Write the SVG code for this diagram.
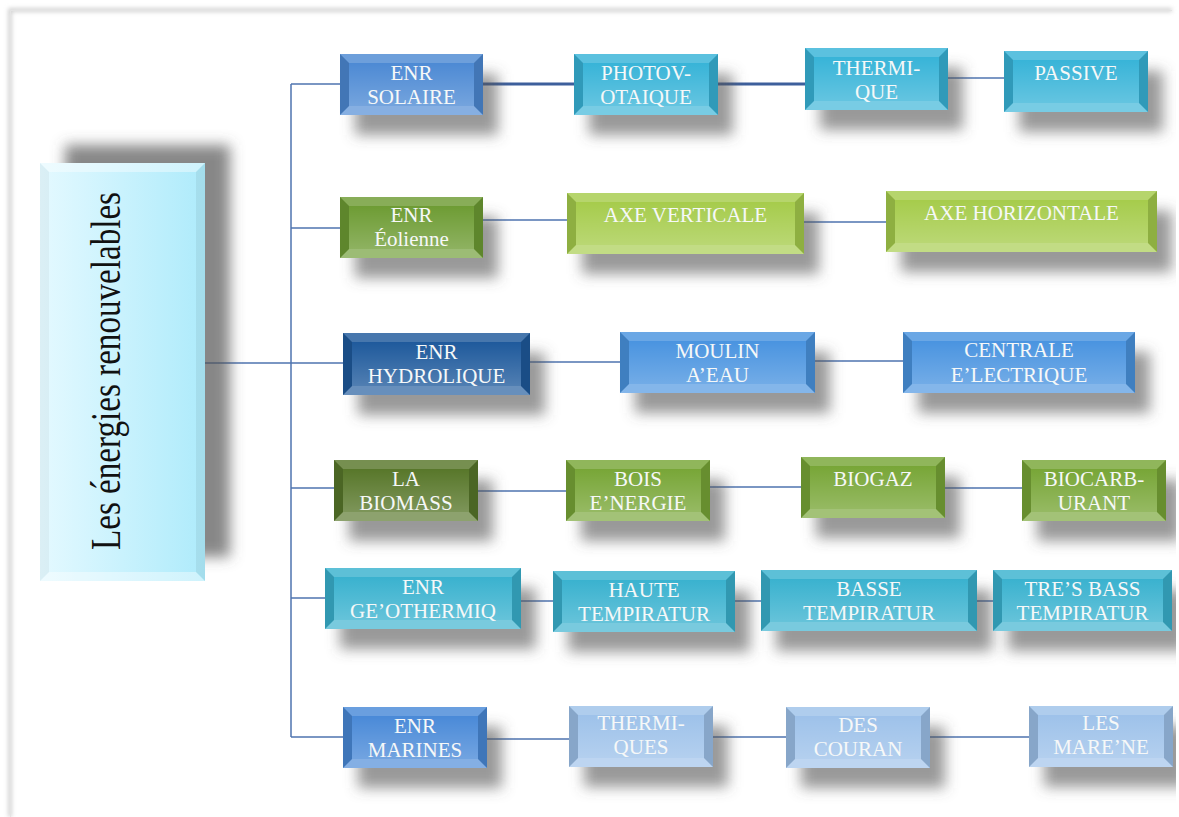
<svg xmlns="http://www.w3.org/2000/svg" width="1179" height="817" viewBox="0 0 1179 817">
<style>
  .sh{fill:#555;fill-opacity:.6;filter:url(#blur)}
  .bt{fill:#fff;fill-opacity:.18}
  .bb{fill:#fff;fill-opacity:.32}
  .bs{fill:#000;fill-opacity:.14}
  .face{fill:url(#gl)}
  .t{font-family:"Liberation Serif","Times New Roman",serif;font-size:21px;fill:#f6f8f8;text-anchor:middle}
  .c{fill:none;stroke:#4f74b0;stroke-width:1.5}
  .ck{fill:none;stroke:#3d5f9c;stroke-width:3}
</style>
<defs>
  <filter id="blur" x="-30%" y="-60%" width="160%" height="220%"><feGaussianBlur stdDeviation="7"/></filter>
  <filter id="pg" x="-5%" y="-5%" width="110%" height="110%"><feGaussianBlur stdDeviation="2"/></filter>
  <clipPath id="clip"><rect x="0" y="0" width="1176" height="817"/></clipPath>
  <linearGradient id="gl" x1="0" y1="0" x2="0" y2="1">
    <stop offset="0" stop-color="#fff" stop-opacity="0"/>
    <stop offset="1" stop-color="#fff" stop-opacity=".22"/>
  </linearGradient>
  <linearGradient id="rootg" x1="0" y1="0" x2="1" y2="0">
    <stop offset="0" stop-color="#e4f9ff"/>
    <stop offset="1" stop-color="#aeebfb"/>
  </linearGradient>
</defs>
<rect width="1179" height="817" fill="#fff"/>
<g id="page">
  <path d="M10,817 V10 H1172" fill="none" stroke="#c4c4c4" stroke-width="3" filter="url(#pg)"/>
  <path d="M10.5,817 V10.5 H1172" fill="none" stroke="#e4e4e4" stroke-width="1"/>
</g>

<g id="connectors">
  <path class="c" d="M205,363 H291 M291,84 V737 M291,84 H340 M291,228 H340 M291,363 H343 M291,488 H334 M291,598 H325 M291,737 H343"/>
  <path class="ck" d="M483,84 H574 M718,84 H805"/>
  <path class="c" d="M948,78 H1004"/>
  <path class="c" d="M483,220 H567 M804,222 H886"/>
  <path class="c" d="M530,362 H620 M815,361 H903"/>
  <path class="c" d="M478,491 H566 M710,487 H801 M945,488 H1022"/>
  <path class="c" d="M521,601 H553 M735,601 H761 M977,601 H993"/>
  <path class="c" d="M487,739 H569 M713,737 H786 M930,737 H1029"/>
</g>

<g id="nodes" clip-path="url(#clip)">
<g id="n-root">
  <rect class="sh" x="65" y="145" width="165" height="412" style="fill-opacity:.7"/>
  <rect x="40" y="163" width="165" height="418" fill="url(#rootg)"/>
  <polygon class="bt" points="40,163 205,163 196,172 49,172" style="fill-opacity:.4"/>
  <polygon class="bb" points="40,581 205,581 196,572 49,572" style="fill-opacity:.4"/>
  <polygon class="bs" points="40,163 49,172 49,572 40,581" style="fill-opacity:.04"/>
  <polygon class="bs" points="205,163 196,172 196,572 205,581" style="fill-opacity:.06"/>
  <text transform="translate(120,371) rotate(-90)" x="0" y="0" text-anchor="middle" font-family="Liberation Serif, Times New Roman, serif" font-size="42" fill="#111" textLength="358" lengthAdjust="spacingAndGlyphs">Les énergies renouvelables</text>
</g>

<!-- Row 1 -->
<g id="n-solaire">
  <rect class="sh" x="355" y="74" width="143" height="61"/>
  <rect x="340" y="54" width="143" height="61" fill="#4d8ad4"/>
  <polygon class="bt" points="340,54 483,54 474,63 349,63"/>
  <polygon class="bb" points="340,115 483,115 474,106 349,106"/>
  <polygon class="bs" points="340,54 349,63 349,106 340,115"/>
  <polygon class="bs" points="483,54 474,63 474,106 483,115"/>
  <rect class="face" x="349" y="63" width="125" height="43"/>
  <text class="t" x="411.5" y="80">ENR</text><text class="t" x="411.5" y="104">SOLAIRE</text>
</g>
<g id="n-photov">
  <rect class="sh" x="589" y="74" width="144" height="61"/>
  <rect x="574" y="54" width="144" height="61" fill="#38b4d8"/>
  <polygon class="bt" points="574,54 718,54 709,63 583,63"/>
  <polygon class="bb" points="574,115 718,115 709,106 583,106"/>
  <polygon class="bs" points="574,54 583,63 583,106 574,115"/>
  <polygon class="bs" points="718,54 709,63 709,106 718,115"/>
  <rect class="face" x="583" y="63" width="126" height="43"/>
  <text class="t" x="646" y="80">PHOTOV-</text><text class="t" x="646" y="104">OTAIQUE</text>
</g>
<g id="n-thermi">
  <rect class="sh" x="820" y="68" width="143" height="62"/>
  <rect x="805" y="48" width="143" height="62" fill="#38b4d8"/>
  <polygon class="bt" points="805,48 948,48 939,57 814,57"/>
  <polygon class="bb" points="805,110 948,110 939,101 814,101"/>
  <polygon class="bs" points="805,48 814,57 814,101 805,110"/>
  <polygon class="bs" points="948,48 939,57 939,101 948,110"/>
  <rect class="face" x="814" y="57" width="125" height="44"/>
  <text class="t" x="876.5" y="75">THERMI-</text><text class="t" x="876.5" y="99">QUE</text>
</g>
<g id="n-passive">
  <rect class="sh" x="1019" y="71" width="144" height="61"/>
  <rect x="1004" y="51" width="144" height="61" fill="#38b4d8"/>
  <polygon class="bt" points="1004,51 1148,51 1139,60 1013,60"/>
  <polygon class="bb" points="1004,112 1148,112 1139,103 1013,103"/>
  <polygon class="bs" points="1004,51 1013,60 1013,103 1004,112"/>
  <polygon class="bs" points="1148,51 1139,60 1139,103 1148,112"/>
  <rect class="face" x="1013" y="60" width="126" height="43"/>
  <text class="t" x="1076" y="80">PASSIVE</text>
</g>

<!-- Row 2 -->
<g id="n-eolienne">
  <rect class="sh" x="355" y="217" width="143" height="61"/>
  <rect x="340" y="197" width="143" height="61" fill="#6e9c34"/>
  <polygon class="bt" points="340,197 483,197 474,206 349,206"/>
  <polygon class="bb" points="340,258 483,258 474,249 349,249"/>
  <polygon class="bs" points="340,197 349,206 349,249 340,258"/>
  <polygon class="bs" points="483,197 474,206 474,249 483,258"/>
  <rect class="face" x="349" y="206" width="125" height="43"/>
  <text class="t" x="411.5" y="222">ENR</text><text class="t" x="411.5" y="246">Éolienne</text>
</g>
<g id="n-axev">
  <rect class="sh" x="582" y="213" width="237" height="61"/>
  <rect x="567" y="193" width="237" height="61" fill="#a6cc4c"/>
  <polygon class="bt" points="567,193 804,193 795,202 576,202"/>
  <polygon class="bb" points="567,254 804,254 795,245 576,245"/>
  <polygon class="bs" points="567,193 576,202 576,245 567,254"/>
  <polygon class="bs" points="804,193 795,202 795,245 804,254"/>
  <rect class="face" x="576" y="202" width="219" height="43"/>
  <text class="t" x="685.5" y="222">AXE VERTICALE</text>
</g>
<g id="n-axeh">
  <rect class="sh" x="901" y="211" width="271" height="61"/>
  <rect x="886" y="191" width="271" height="61" fill="#a6cc4c"/>
  <polygon class="bt" points="886,191 1157,191 1148,200 895,200"/>
  <polygon class="bb" points="886,252 1157,252 1148,243 895,243"/>
  <polygon class="bs" points="886,191 895,200 895,243 886,252"/>
  <polygon class="bs" points="1157,191 1148,200 1148,243 1157,252"/>
  <rect class="face" x="895" y="200" width="253" height="43"/>
  <text class="t" x="1021.5" y="220">AXE HORIZONTALE</text>
</g>

<!-- Row 3 -->
<g id="n-hydro">
  <rect class="sh" x="358" y="353" width="187" height="62"/>
  <rect x="343" y="333" width="187" height="62" fill="#1f5a9c"/>
  <polygon class="bt" points="343,333 530,333 521,342 352,342"/>
  <polygon class="bb" points="343,395 530,395 521,386 352,386"/>
  <polygon class="bs" points="343,333 352,342 352,386 343,395"/>
  <polygon class="bs" points="530,333 521,342 521,386 530,395"/>
  <rect class="face" x="352" y="342" width="169" height="44"/>
  <text class="t" x="436.5" y="359">ENR</text><text class="t" x="436.5" y="383">HYDROLIQUE</text>
</g>
<g id="n-moulin">
  <rect class="sh" x="635" y="352" width="195" height="61"/>
  <rect x="620" y="332" width="195" height="61" fill="#4a94e0"/>
  <polygon class="bt" points="620,332 815,332 806,341 629,341"/>
  <polygon class="bb" points="620,393 815,393 806,384 629,384"/>
  <polygon class="bs" points="620,332 629,341 629,384 620,393"/>
  <polygon class="bs" points="815,332 806,341 806,384 815,393"/>
  <rect class="face" x="629" y="341" width="177" height="43"/>
  <text class="t" x="717.5" y="358">MOULIN</text><text class="t" x="717.5" y="382">A’EAU</text>
</g>
<g id="n-centrale">
  <rect class="sh" x="918" y="352" width="232" height="61"/>
  <rect x="903" y="332" width="232" height="61" fill="#4a94e0"/>
  <polygon class="bt" points="903,332 1135,332 1126,341 912,341"/>
  <polygon class="bb" points="903,393 1135,393 1126,384 912,384"/>
  <polygon class="bs" points="903,332 912,341 912,384 903,393"/>
  <polygon class="bs" points="1135,332 1126,341 1126,384 1135,393"/>
  <rect class="face" x="912" y="341" width="214" height="43"/>
  <text class="t" x="1019" y="357">CENTRALE</text><text class="t" x="1019" y="382">E’LECTRIQUE</text>
</g>

<!-- Row 4 -->
<g id="n-biomass">
  <rect class="sh" x="349" y="480" width="144" height="61"/>
  <rect x="334" y="460" width="144" height="61" fill="#58772a"/>
  <polygon class="bt" points="334,460 478,460 469,469 343,469"/>
  <polygon class="bb" points="334,521 478,521 469,512 343,512"/>
  <polygon class="bs" points="334,460 343,469 343,512 334,521"/>
  <polygon class="bs" points="478,460 469,469 469,512 478,521"/>
  <rect class="face" x="343" y="469" width="126" height="43"/>
  <text class="t" x="406" y="486">LA</text><text class="t" x="406" y="510">BIOMASS</text>
</g>
<g id="n-bois">
  <rect class="sh" x="581" y="480" width="144" height="61"/>
  <rect x="566" y="460" width="144" height="61" fill="#78a637"/>
  <polygon class="bt" points="566,460 710,460 701,469 575,469"/>
  <polygon class="bb" points="566,521 710,521 701,512 575,512"/>
  <polygon class="bs" points="566,460 575,469 575,512 566,521"/>
  <polygon class="bs" points="710,460 701,469 701,512 710,521"/>
  <rect class="face" x="575" y="469" width="126" height="43"/>
  <text class="t" x="638" y="486">BOIS</text><text class="t" x="638" y="510">E’NERGIE</text>
</g>
<g id="n-biogaz">
  <rect class="sh" x="816" y="477" width="144" height="61"/>
  <rect x="801" y="457" width="144" height="61" fill="#78a637"/>
  <polygon class="bt" points="801,457 945,457 936,466 810,466"/>
  <polygon class="bb" points="801,518 945,518 936,509 810,509"/>
  <polygon class="bs" points="801,457 810,466 810,509 801,518"/>
  <polygon class="bs" points="945,457 936,466 936,509 945,518"/>
  <rect class="face" x="810" y="466" width="126" height="43"/>
  <text class="t" x="873" y="486">BIOGAZ</text>
</g>
<g id="n-biocarb">
  <rect class="sh" x="1037" y="480" width="144" height="61"/>
  <rect x="1022" y="460" width="144" height="61" fill="#78a637"/>
  <polygon class="bt" points="1022,460 1166,460 1157,469 1031,469"/>
  <polygon class="bb" points="1022,521 1166,521 1157,512 1031,512"/>
  <polygon class="bs" points="1022,460 1031,469 1031,512 1022,521"/>
  <polygon class="bs" points="1166,460 1157,469 1157,512 1166,521"/>
  <rect class="face" x="1031" y="469" width="126" height="43"/>
  <text class="t" x="1094" y="486">BIOCARB-</text><text class="t" x="1094" y="510">URANT</text>
</g>

<!-- Row 5 -->
<g id="n-geo">
  <rect class="sh" x="340" y="588" width="196" height="61"/>
  <rect x="325" y="568" width="196" height="61" fill="#3ab2cf"/>
  <polygon class="bt" points="325,568 521,568 512,577 334,577"/>
  <polygon class="bb" points="325,629 521,629 512,620 334,620"/>
  <polygon class="bs" points="325,568 334,577 334,620 325,629"/>
  <polygon class="bs" points="521,568 512,577 512,620 521,629"/>
  <rect class="face" x="334" y="577" width="178" height="43"/>
  <text class="t" x="423" y="594">ENR</text><text class="t" x="423" y="618">GE’OTHERMIQ</text>
</g>
<g id="n-haute">
  <rect class="sh" x="568" y="591" width="182" height="61"/>
  <rect x="553" y="571" width="182" height="61" fill="#3ab2cf"/>
  <polygon class="bt" points="553,571 735,571 726,580 562,580"/>
  <polygon class="bb" points="553,632 735,632 726,623 562,623"/>
  <polygon class="bs" points="553,571 562,580 562,623 553,632"/>
  <polygon class="bs" points="735,571 726,580 726,623 735,632"/>
  <rect class="face" x="562" y="580" width="164" height="43"/>
  <text class="t" x="644" y="597">HAUTE</text><text class="t" x="644" y="621">TEMPIRATUR</text>
</g>
<g id="n-basse">
  <rect class="sh" x="776" y="590" width="216" height="61"/>
  <rect x="761" y="570" width="216" height="61" fill="#3ab2cf"/>
  <polygon class="bt" points="761,570 977,570 968,579 770,579"/>
  <polygon class="bb" points="761,631 977,631 968,622 770,622"/>
  <polygon class="bs" points="761,570 770,579 770,622 761,631"/>
  <polygon class="bs" points="977,570 968,579 968,622 977,631"/>
  <rect class="face" x="770" y="579" width="198" height="43"/>
  <text class="t" x="869" y="596">BASSE</text><text class="t" x="869" y="620">TEMPIRATUR</text>
</g>
<g id="n-tres">
  <rect class="sh" x="1008" y="590" width="179" height="61"/>
  <rect x="993" y="570" width="179" height="61" fill="#3ab2cf"/>
  <polygon class="bt" points="993,570 1172,570 1163,579 1002,579"/>
  <polygon class="bb" points="993,631 1172,631 1163,622 1002,622"/>
  <polygon class="bs" points="993,570 1002,579 1002,622 993,631"/>
  <polygon class="bs" points="1172,570 1163,579 1163,622 1172,631"/>
  <rect class="face" x="1002" y="579" width="161" height="43"/>
  <text class="t" x="1082.5" y="596">TRE’S BASS</text><text class="t" x="1082.5" y="620">TEMPIRATUR</text>
</g>

<!-- Row 6 -->
<g id="n-marines">
  <rect class="sh" x="358" y="727" width="144" height="61"/>
  <rect x="343" y="707" width="144" height="61" fill="#4a8ad8"/>
  <polygon class="bt" points="343,707 487,707 478,716 352,716"/>
  <polygon class="bb" points="343,768 487,768 478,759 352,759"/>
  <polygon class="bs" points="343,707 352,716 352,759 343,768"/>
  <polygon class="bs" points="487,707 478,716 478,759 487,768"/>
  <rect class="face" x="352" y="716" width="126" height="43"/>
  <text class="t" x="415" y="733">ENR</text><text class="t" x="415" y="757">MARINES</text>
</g>
<g id="n-thermiques">
  <rect class="sh" x="584" y="726" width="144" height="61"/>
  <rect x="569" y="706" width="144" height="61" fill="#9ec2ea"/>
  <polygon class="bt" points="569,706 713,706 704,715 578,715"/>
  <polygon class="bb" points="569,767 713,767 704,758 578,758"/>
  <polygon class="bs" points="569,706 578,715 578,758 569,767"/>
  <polygon class="bs" points="713,706 704,715 704,758 713,767"/>
  <rect class="face" x="578" y="715" width="126" height="43"/>
  <text class="t" x="641" y="730">THERMI-</text><text class="t" x="641" y="754">QUES</text>
</g>
<g id="n-des">
  <rect class="sh" x="801" y="727" width="144" height="61"/>
  <rect x="786" y="707" width="144" height="61" fill="#9ec2ea"/>
  <polygon class="bt" points="786,707 930,707 921,716 795,716"/>
  <polygon class="bb" points="786,768 930,768 921,759 795,759"/>
  <polygon class="bs" points="786,707 795,716 795,759 786,768"/>
  <polygon class="bs" points="930,707 921,716 921,759 930,768"/>
  <rect class="face" x="795" y="716" width="126" height="43"/>
  <text class="t" x="858" y="732">DES</text><text class="t" x="858" y="756">COURAN</text>
</g>
<g id="n-les">
  <rect class="sh" x="1044" y="726" width="144" height="61"/>
  <rect x="1029" y="706" width="144" height="61" fill="#9ec2ea"/>
  <polygon class="bt" points="1029,706 1173,706 1164,715 1038,715"/>
  <polygon class="bb" points="1029,767 1173,767 1164,758 1038,758"/>
  <polygon class="bs" points="1029,706 1038,715 1038,758 1029,767"/>
  <polygon class="bs" points="1173,706 1164,715 1164,758 1173,767"/>
  <rect class="face" x="1038" y="715" width="126" height="43"/>
  <text class="t" x="1101" y="730">LES</text><text class="t" x="1101" y="754">MARE’NE</text>
</g>
</g>
</svg>
